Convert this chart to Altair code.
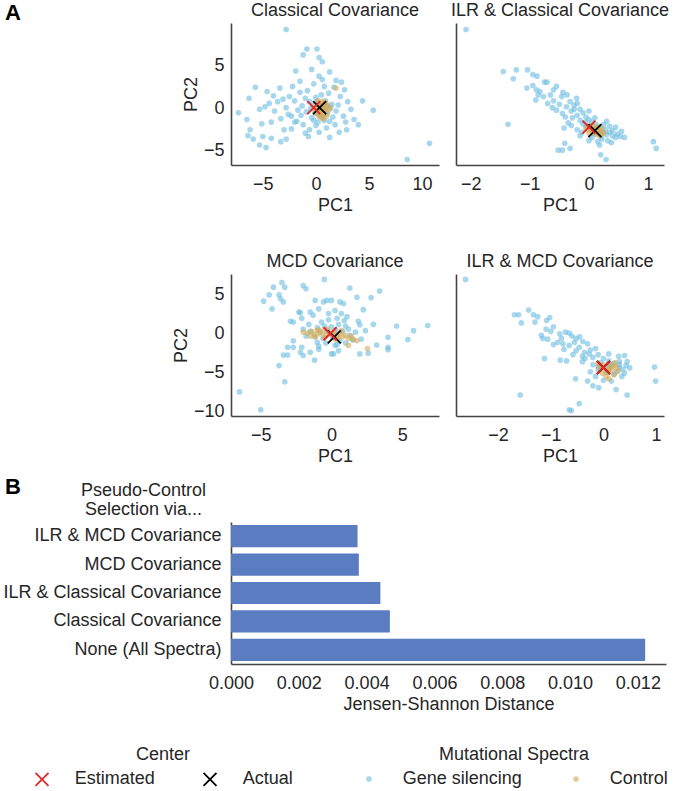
import altair as alt
import pandas as pd

FONT = "Liberation Sans"
TEXT = "#262626"
BLUE = "#6cbde0"
TAN = "#d2aa5a"
RED = "#e3262a"
X_PATH = "M-1,-1L1,1M-1,1L1,-1"

panel_titles = ["Classical Covariance", "ILR & Classical Covariance",
                "MCD Covariance", "ILR & MCD Covariance"]

# PC1/PC2 projections of the gene silencing spectra, one list per panel
gs_classical = [
    (-2.8, 9.3), (-0.85, 7.0), (0.1, 7.0), (-1.2, 6.3), (0.3, 6.0), (0.6, 5.5), (1.3, 4.3),
    (0.3, 3.8), (-0.4, 4.6), (-1.5, 3.2), (-2.2, 2.6), (-5.7, 2.5), (-4.6, 2.0), (-6.3, 1.2),
    (-4.0, 1.5), (-3.6, 0.8), (-4.4, 0.6), (-3.1, 1.1), (-2.5, 1.4), (-2.0, 0.9), (-4.8, 0.2),
    (-5.3, -0.1), (-3.9, -0.3), (-2.8, 0.1), (-7.3, -0.5), (-6.5, -1.3), (-6.2, -2.5),
    (-5.1, -1.8), (-4.2, -1.6), (-3.3, -1.2), (-2.6, -0.7), (-1.8, -1.5), (-1.2, -1.9),
    (-2.3, -2.4), (-6.4, -3.2), (-5.9, -3.6), (-5.0, -3.3), (-4.2, -3.5), (-3.3, -3.9),
    (-5.3, -4.3), (-4.7, -4.6), (-2.8, -3.6), (-0.6, -2.5), (0.3, -2.8), (1.0, -2.3),
    (1.8, -1.9), (2.2, -2.8), (2.9, -2.5), (4.0, -1.9), (3.3, -0.1), (5.4, -0.2), (2.3, 1.4),
    (2.4, 3.1), (1.9, 3.3), (2.7, 2.2), (3.0, 0.8), (2.6, -0.9), (1.6, -1.0), (1.5, 0.5),
    (1.2, 1.8), (0.8, 2.6), (-0.2, 2.9), (-0.8, 2.1), (-1.5, 1.9), (-1.0, 1.2), (-0.6, 0.8),
    (-1.3, 0.3), (-0.9, -0.4), (-0.4, -1.1), (0.2, -1.6), (0.8, -1.4), (1.1, -0.6), (0.9, 0.9),
    (0.5, 1.6), (0.0, 1.3), (-0.3, 0.4), (0.4, 0.5), (0.7, -0.2), (-0.1, -0.5), (0.3, -0.7),
    (1.4, 0.1), (1.9, -0.3), (2.1, 0.4), (-1.7, -0.2), (-2.3, -0.9), (10.7, -4.1), (8.6, -6.0),
    (-1.9, 4.4), (-3.4, 2.4), (-0.7, -3.3), (1.3, -3.4), (0.0, -2.0), (-1.0, -2.9), (-3.0, -2.5),
    (-2.0, -1.6), (3.6, -1.3), (4.4, 0.9), (2.8, -1.6), (-1.4, -0.8), (0.6, 3.4), (1.7, 2.5),
    (-0.5, 0.0), (0.1, 0.8), (1.0, 0.3), (0.6, -1.0), (-0.2, -1.4), (1.3, -1.5),
]
gs_ilr_classical = [
    (-2.08, 9.3), (-1.45, 4.35), (-1.23, 4.55), (-1.04, 4.55), (-1.28, 3.5), (-0.95, 4.0),
    (-0.88, 3.8), (-0.75, 3.1), (-0.71, 3.1), (-0.55, 2.6), (-0.89, 2.2), (-0.83, 2.0),
    (-0.86, 1.6), (-0.77, 1.4), (-0.65, 1.6), (-0.44, 1.9), (-0.37, 1.6), (-0.46, 1.4),
    (-0.21, 1.2), (-0.32, 0.8), (-0.6, 0.9), (-0.5, 0.5), (-0.38, 0.2), (-0.25, 0.4),
    (-0.15, -0.1), (-0.3, -0.3), (-0.45, -0.6), (-0.2, -0.8), (-0.1, -0.5), (-0.05, -1.0),
    (0.0, -1.3), (-0.15, -1.4), (-0.28, -1.1), (-0.35, -1.7), (-0.42, -2.3), (-0.1, -1.8),
    (0.05, -1.6), (0.12, -1.9), (0.2, -2.2), (0.28, -2.5), (0.35, -2.8), (0.4, -2.6),
    (0.48, -3.0), (0.53, -3.3), (0.45, -3.4), (0.3, -3.1), (0.2, -3.3), (0.1, -3.0),
    (0.22, -3.6), (0.15, -3.9), (0.05, -3.4), (0.32, -3.8), (0.4, -3.2), (0.25, -2.8),
    (0.15, -2.6), (0.08, -2.3), (-0.05, -2.1), (-0.2, -2.5), (-0.3, -2.0), (-1.37, -1.85),
    (-0.52, -4.9), (-0.45, -4.9), (-0.32, -4.7), (-0.41, -4.1), (0.2, -5.45), (0.29, -6.0),
    (1.09, -3.9), (1.14, -4.7), (-0.62, 0.1), (-0.7, 0.6), (-0.55, -0.2), (-0.9, 1.0),
    (-1.05, 2.4), (-0.95, 2.7), (-0.6, 2.2), (-0.25, -0.1), (0.1, -1.1), (0.3, -1.5),
    (0.35, -2.1), (-0.12, -2.8), (0.0, -3.8), (0.6, -3.4), (0.18, -4.3), (-0.15, -3.2),
    (0.45, -2.2), (-0.2, 0.6), (-0.4, -1.0), (0.0, -0.3), (0.55, -2.7), (0.38, -4.0),
    (-0.06, -1.6), (0.25, -1.9),
]
gs_mcd = [
    (-0.5, 7.0), (-3.5, 6.6), (-3.3, 6.0), (-4.1, 6.0), (-4.4, 5.0), (-3.7, 5.0), (-3.6, 4.5),
    (-4.8, 4.2), (-3.4, 4.1), (-4.2, 3.2), (-2.0, 6.2), (-1.8, 5.8), (-2.3, 2.8), (-2.2, 2.7),
    (-1.5, 2.8), (-2.9, 1.6), (-2.7, 1.5), (-2.1, 2.0), (-1.15, 4.3), (-0.56, 4.1), (-0.33, 4.3),
    (0.0, 4.3), (-0.9, 3.2), (-1.3, 2.4), (-0.7, 1.5), (-0.2, 2.6), (-2.7, -0.9), (-3.1, -1.75),
    (-2.7, -1.75), (-2.1, -1.75), (-2.2, -2.4), (-2.0, -2.8), (-1.5, -2.4), (-1.2, -3.4),
    (-0.9, -2.0), (-3.4, -2.75), (-3.1, -2.75), (-3.7, -4.1), (-3.3, -6.2), (-6.5, -7.5),
    (-5.0, -9.8), (0.14, -2.6), (1.3, 5.9), (3.4, 5.5), (2.8, 4.65), (1.8, 4.7), (0.6, 4.1),
    (0.85, 3.9), (2.25, 3.1), (0.25, 3.0), (0.7, 2.6), (1.9, 1.6), (2.0, 1.15), (2.96, 1.2),
    (4.6, 1.0), (5.8, 0.4), (6.8, 1.06), (1.2, 0.6), (2.4, 0.4), (1.7, 0.2), (2.1, -0.7),
    (4.0, -0.45), (5.4, -0.75), (3.2, -1.45), (4.0, -1.75), (4.0, -2.05), (2.0, -2.6),
    (2.6, -2.5), (0.25, -1.5), (0.5, -2.2), (0.0, -2.6), (-1.0, 0.8), (-0.5, 1.0), (0.0, 0.9),
    (0.5, 1.2), (1.0, 1.0), (-1.5, 0.3), (-0.8, 0.2), (-0.3, 0.4), (0.3, 0.5), (0.8, 0.3),
    (1.3, -0.2), (-1.2, -0.4), (-0.6, -0.6), (0.1, -0.5), (0.6, -0.9), (1.0, -1.2),
    (-1.8, -0.3), (-0.4, -1.2), (0.4, -1.4), (-1.0, -1.1), (-2.0, 0.6), (-0.2, 1.8),
    (0.4, 2.0), (1.1, 2.2), (-1.6, 1.2), (1.5, -0.8), (-0.9, -1.6), (0.9, 1.7),
]
gs_ilr_mcd = [
    (-2.62, 7.0), (-1.69, 2.45), (-1.61, 2.45), (-1.42, 3.05), (-1.56, 1.4), (-1.33, 2.45),
    (-1.25, 2.2), (-1.02, 2.1), (-1.08, 1.7), (-1.09, 0.6), (-1.18, -0.2), (-1.15, -0.6),
    (-1.06, -0.7), (-0.83, 0.0), (-0.72, 0.2), (-0.65, 0.1), (-0.52, -0.6), (-0.87, -1.1),
    (-0.77, -1.3), (-0.65, -1.5), (-0.8, -0.6), (-0.39, -1.0), (-0.46, -1.75), (-0.52, -2.2),
    (-0.36, -2.4), (-0.27, -2.6), (-0.2, -3.05), (-1.12, -3.2), (-0.82, -3.4), (-0.7, -3.5),
    (0.29, -2.9), (0.4, -2.8), (0.97, -4.3), (0.99, -6.1), (-0.53, -5.8), (-0.3, -6.1),
    (-0.2, -6.7), (-0.09, -6.95), (0.15, -6.1), (0.24, -7.2), (0.45, -7.9), (-1.58, -7.9),
    (-0.65, -9.8), (-0.61, -9.9), (-0.46, -9.0), (0.3, -4.35), (0.37, -4.6), (0.43, -4.1),
    (-0.95, 0.9), (-0.6, -0.3), (-0.45, -0.4), (-0.3, -1.3), (-0.15, -1.9), (-0.1, -2.7),
    (0.0, -3.2), (0.1, -3.5), (-0.05, -3.7), (0.2, -3.8), (0.3, -3.6), (-0.2, -4.0),
    (-0.1, -4.6), (0.05, -5.0), (0.2, -5.2), (0.35, -5.5), (0.15, -4.0), (-0.25, -4.9),
    (0.25, -4.9), (0.4, -5.1), (-0.35, -3.2), (-0.58, -2.7), (-0.75, -2.0), (-0.95, -1.4),
    (-0.55, -1.1), (-1.0, 0.3), (-0.4, -3.6), (0.1, -2.6), (0.5, -4.4), (0.45, -3.6),
    (-0.15, -5.5), (0.0, -6.0), (-1.3, 1.5), (-0.4, -2.9), (-0.25, -2.1), (0.1, -4.2),
    (-0.1, -4.2), (0.3, -3.95),
]

# Control spectra, same projections
ctrl_classical = [
    (0.1, 0.3), (0.3, 0.6), (0.5, 0.2), (0.7, 0.5), (0.9, 0.1), (1.1, 0.4), (1.3, -0.1),
    (0.2, -0.2), (0.4, -0.5), (0.6, -0.3), (0.8, -0.7), (1.0, -0.4), (0.3, -0.9), (0.5, -1.1),
    (0.7, -1.2), (0.0, -0.6), (-0.2, 0.0), (0.6, 0.8), (0.9, 0.7), (1.2, 0.2), (0.4, 0.0),
    (0.8, -0.1), (1.9, 2.4), (0.2, 0.9), (1.0, -0.9), (0.5, 0.5), (0.2, 0.1), (0.7, -0.6),
]
ctrl_ilr_classical = [
    (0.0, -2.0), (0.05, -2.3), (0.1, -2.1), (0.15, -2.5), (0.2, -2.7), (0.08, -2.8),
    (0.12, -3.0), (0.18, -3.2), (0.03, -2.6), (-0.05, -2.4), (0.22, -2.4), (0.25, -2.9),
    (0.1, -2.45), (0.15, -2.2), (0.0, -2.9), (0.2, -3.05), (0.07, -2.55), (0.13, -2.7),
    (0.17, -2.85), (-0.02, -2.2),
]
ctrl_mcd = [
    (-2.0, 0.2), (-1.7, 0.1), (-1.4, 0.3), (-1.2, -0.1), (-1.0, 0.4), (-0.8, 0.0), (-0.6, 0.3),
    (-0.4, -0.2), (-0.2, 0.2), (0.0, -0.1), (0.2, 0.3), (0.4, -0.3), (0.6, 0.0), (0.8, -0.4),
    (1.0, -0.2), (1.2, -0.6), (1.4, -0.3), (1.55, -0.7), (1.2, -1.5), (2.55, -1.9),
    (-1.5, -0.3), (-0.9, 0.5), (-0.3, 0.6), (0.3, -0.7), (0.7, 0.4), (1.8, -0.9), (-1.1, -0.4),
    (0.1, 0.0), (0.5, -0.5), (-0.5, -0.5),
]
ctrl_ilr_mcd = [
    (-0.1, -3.8), (0.0, -4.0), (0.1, -3.9), (0.2, -4.1), (0.25, -4.4), (0.15, -4.6),
    (0.05, -4.8), (-0.05, -4.5), (0.1, -5.0), (0.2, -5.3), (0.05, -5.5), (0.1, -5.8),
    (-0.08, -4.2), (0.28, -4.8), (0.0, -4.35), (0.15, -4.25), (-0.02, -5.1), (0.22, -3.75),
    (0.12, -4.45), (0.08, -4.65),
]

# Estimated and actual centers per panel
est_x = [-0.2, 0.0, -0.1, 0.0]
est_y = [0.1, -2.2, 0.0, -4.35]
act_x = [0.35, 0.1, 0.2, 0.0]
act_y = [0.1, -2.6, -0.4, -4.35]

x_domains = [[-8.0, 11.6], [-2.25, 1.27], [-7.1, 7.6], [-2.8, 1.15]]
y_domains = [[-6.65, 10.06], [-6.65, 10.06], [-10.6, 7.7], [-10.6, 7.7]]
x_ticks = [[-5, 0, 5, 10], [-2, -1, 0, 1], [-5, 0, 5], [-2, -1, 0, 1]]
y_ticks = [[-5, 0, 5], [-5, 0, 5], [-10, -5, 0, 5], [-10, -5, 0, 5]]

# Jensen-Shannon distance to the control spectra
methods = ["ILR & MCD Covariance", "MCD Covariance", "ILR & Classical Covariance",
           "Classical Covariance", "None (All Spectra)"]
jsd = [0.003733, 0.00377, 0.004406, 0.004686, 0.012216]
jsd_ticks = [0.0, 0.002, 0.004, 0.006, 0.008, 0.010, 0.012]

spectra_scale = alt.Scale(domain=["Gene silencing", "Control"], range=[BLUE, TAN])
center_scale = alt.Scale(domain=["Estimated", "Actual"], range=[RED, "black"])

legend_common = dict(
    orient="none", direction="horizontal", titleAnchor="middle",
    titleFontSize=18, titleFontWeight="normal", titleColor=TEXT, titleFont=FONT,
    labelFontSize=18, labelColor=TEXT, labelFont=FONT, titlePadding=6,
    padding=0, labelLimit=300,
)
spectra_legend = alt.Legend(title="Mutational Spectra", legendX=129, legendY=723,
                            symbolSize=32, symbolOpacity=0.6, labelOffset=24.7,
                            columnPadding=45, **legend_common)
center_legend = alt.Legend(title="Center", legendX=-198, legendY=723,
                           symbolType=X_PATH, symbolSize=169, symbolStrokeWidth=1.8,
                           symbolFillColor="transparent", labelOffset=23.8,
                           columnPadding=44, **legend_common)


def scatter_panel(idx, gs_pts, ctrl_pts, show_y):
    rows = [{"pc1": x, "pc2": y, "spectra": "Gene silencing"} for x, y in gs_pts]
    rows += [{"pc1": x, "pc2": y, "spectra": "Control"} for x, y in ctrl_pts]
    pts = pd.DataFrame(rows)
    centers = pd.DataFrame({
        "pc1": [act_x[idx], est_x[idx]],
        "pc2": [act_y[idx], est_y[idx]],
        "center": ["Actual", "Estimated"],
    })
    x_enc = alt.X("pc1:Q",
                  scale=alt.Scale(domain=x_domains[idx], nice=False, zero=False),
                  axis=alt.Axis(values=x_ticks[idx], title="PC1"))
    if show_y:
        y_axis = alt.Axis(values=y_ticks[idx], title="PC2")
    else:
        y_axis = alt.Axis(labels=False, title=None)
    y_enc = alt.Y("pc2:Q",
                  scale=alt.Scale(domain=y_domains[idx], nice=False, zero=False),
                  axis=y_axis)
    dots = alt.Chart(pts).mark_circle(size=32, opacity=0.6).encode(
        x=x_enc, y=y_enc,
        fill=alt.Fill("spectra:N", scale=spectra_scale, legend=spectra_legend),
    )
    marks = alt.Chart(centers).mark_point(
        shape=X_PATH, filled=False, size=169, strokeWidth=1.8, opacity=1
    ).encode(
        x=x_enc, y=y_enc,
        stroke=alt.Stroke("center:N", scale=center_scale, legend=center_legend),
    )
    return alt.layer(dots, marks).properties(
        width=208, height=142,
        title=alt.Title(panel_titles[idx], fontSize=18, fontWeight="normal",
                        font=FONT, color=TEXT, offset=3),
    )


p1 = scatter_panel(0, gs_classical, ctrl_classical, True)
p2 = scatter_panel(1, gs_ilr_classical, ctrl_ilr_classical, False)
p3 = scatter_panel(2, gs_mcd, ctrl_mcd, True)
p4 = scatter_panel(3, gs_ilr_mcd, ctrl_ilr_mcd, False)

row_top = alt.hconcat(p1, p2, spacing=17, bounds="flush").resolve_scale(
    x="independent", y="independent")
row_mid = alt.hconcat(p3, p4, spacing=17, bounds="flush").resolve_scale(
    x="independent", y="independent")
panels = alt.vconcat(row_top, row_mid, spacing=39).resolve_scale(
    x="independent", y="independent")

bar_df = pd.DataFrame({"method": methods, "jsd": jsd})
bars = alt.Chart(bar_df).mark_bar(color="#5a7dc2").encode(
    x=alt.X("jsd:Q", scale=alt.Scale(domain=[0, 0.01283], nice=False),
            axis=alt.Axis(values=jsd_ticks, format=".3f",
                          title="Jensen-Shannon Distance")),
    y=alt.Y("method:N", sort=methods,
            scale=alt.Scale(paddingInner=0.22, paddingOuter=0.11),
            axis=alt.Axis(title=["Pseudo-Control", "Selection via..."],
                          titleAngle=0, titleAlign="center", titleBaseline="bottom",
                          titleX=-88, titleY=-23, titleLineHeight=19,
                          labelPadding=10)),
).properties(
    width=435, height=142,
    title=alt.Title("B", anchor="start", fontSize=22, fontWeight="bold",
                    font=FONT, color="black", offset=-18, dx=2),
)

chart = alt.vconcat(panels, bars, spacing=11).resolve_scale(
    x="independent", y="independent", fill="shared", stroke="shared"
).properties(
    title=alt.Title("A", anchor="start", fontSize=22, fontWeight="bold",
                    font=FONT, color="black", offset=-23, dx=2),
    padding={"left": 2, "top": 2, "right": 2, "bottom": 2},
).configure_axis(
    labelFont=FONT, titleFont=FONT, labelFontSize=18, titleFontSize=18,
    labelColor=TEXT, titleColor=TEXT, titleFontWeight="normal",
    ticks=False, grid=False, domainColor="#444444", domainWidth=1.6,
    labelPadding=10, titlePadding=3, labelFlush=False, labelLimit=300,
).configure_axisY(titlePadding=3, labelPadding=7).configure_view(stroke=None)

chart.save("out.html", embed_options={"renderer": "svg", "actions": False})
